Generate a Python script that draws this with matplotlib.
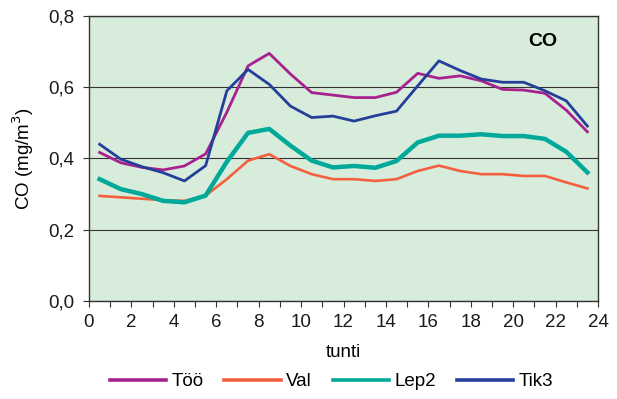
import matplotlib
matplotlib.use("Agg")
import matplotlib.pyplot as plt
from matplotlib.ticker import MultipleLocator, FuncFormatter

plt.rcParams["font.family"] = ["Liberation Sans", "DejaVu Sans"]

hours = [h + 0.5 for h in range(24)]
too = [0.417, 0.388, 0.375, 0.368, 0.379, 0.413, 0.530, 0.660, 0.695, 0.637,
       0.585, 0.578, 0.571, 0.571, 0.586, 0.639, 0.625, 0.632, 0.618, 0.594,
       0.592, 0.583, 0.536, 0.475]
val = [0.295, 0.291, 0.287, 0.283, 0.281, 0.296, 0.342, 0.394, 0.412, 0.379,
       0.356, 0.342, 0.342, 0.337, 0.342, 0.365, 0.380, 0.365, 0.356, 0.356,
       0.351, 0.351, 0.333, 0.316]
lep2 = [0.342, 0.314, 0.300, 0.281, 0.277, 0.296, 0.391, 0.472, 0.483, 0.436,
        0.394, 0.375, 0.379, 0.374, 0.393, 0.445, 0.464, 0.464, 0.468, 0.463,
        0.463, 0.455, 0.419, 0.361]
tik3 = [0.440, 0.398, 0.377, 0.360, 0.337, 0.380, 0.590, 0.650, 0.608, 0.547,
        0.515, 0.519, 0.505, 0.520, 0.533, 0.604, 0.674, 0.647, 0.623, 0.614,
        0.614, 0.590, 0.562, 0.491]

fig = plt.figure(figsize=(6.17, 3.99), dpi=100)
ax = fig.add_axes([89 / 617, 1 - 301 / 399, 509 / 617, 285 / 399])
ax.set_facecolor("#d8ecdc")

ax.plot(hours, too, color="#a8228f", lw=2.0, label="Töö", zorder=3)
ax.plot(hours, val, color="#f4603f", lw=1.9, label="Val", zorder=3)
ax.plot(hours, lep2, color="#00a99a", lw=3.2, label="Lep2", zorder=3)
ax.plot(hours, tik3, color="#243f99", lw=2.0, label="Tik3", zorder=4)

ax.set_xlim(0, 24)
ax.set_ylim(0, 0.8)
ax.xaxis.set_major_locator(MultipleLocator(2))
ax.xaxis.set_minor_locator(MultipleLocator(1))
ax.yaxis.set_major_locator(MultipleLocator(0.2))
ax.yaxis.set_major_formatter(FuncFormatter(lambda v, p: f"{v:.1f}".replace(".", ",")))
ax.grid(axis="y", color="#333333", lw=0.8, zorder=1)
ax.tick_params(axis="both", which="both", direction="out", labelsize=13.5,
               length=4.5, width=0.8, colors="#333333", labelcolor="#1a1a1a")
ax.tick_params(axis="x", which="both", pad=5)
ax.tick_params(axis="y", pad=6)

for s in ax.spines.values():
    s.set_color("#333333")
    s.set_linewidth(1.0)

ax.set_xlabel("tunti", fontsize=13.5, labelpad=9)
ax.set_ylabel("CO (mg/m$^3$)", fontsize=13.5, labelpad=9)
ax.text(0.892, 0.912, "CO", transform=ax.transAxes, fontsize=14, fontweight="bold",
        ha="center", va="center")

leg = fig.legend(loc="center", bbox_to_anchor=(0.537, 0.043), ncol=4, frameon=False,
                 fontsize=13.5, handlelength=3.0, columnspacing=1.1, handletextpad=0.3)
for h in leg.get_lines():
    h.set_linewidth(2.6)

fig.savefig("out.png", dpi=100)
